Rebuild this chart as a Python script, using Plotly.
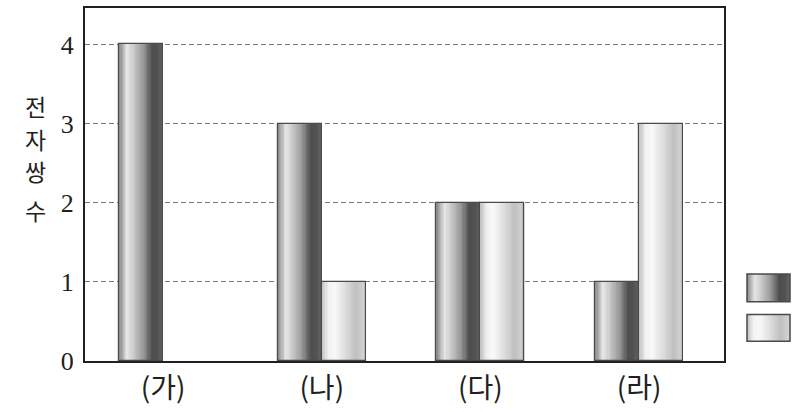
import plotly.graph_objects as go

# ---------------- data ----------------
categories = ["(가)", "(나)", "(다)", "(라)"]
series_dark = [4, 3, 2, 1]
series_light = [0, 1, 2, 3]
y_ticks = [0, 1, 2, 3, 4]
y_title_chars = ["전", "자", "쌍", "수"]

# ---------------- styling ----------------
DARK_STOPS = [(0.0, (0x86, 0x86, 0x86)), (0.18, (0xe6, 0xe6, 0xe6)), (0.30, (0xd0, 0xd0, 0xd0)),
              (0.55, (0x98, 0x98, 0x98)), (0.75, (0x4e, 0x4e, 0x4e)), (0.88, (0x52, 0x52, 0x52)),
              (1.0, (0x66, 0x66, 0x66))]
LIGHT_STOPS = [(0.0, (0xc0, 0xc0, 0xc0)), (0.15, (0xf2, 0xf2, 0xf2)), (0.30, (0xf8, 0xf8, 0xf8)),
               (0.55, (0xdc, 0xdc, 0xdc)), (0.78, (0xc0, 0xc0, 0xc0)), (1.0, (0xd6, 0xd6, 0xd6))]
N_STRIPS = 36
BAR_W = 0.277
OUTLINE = "#4a4a4a"
FRAME = "#231f20"


def grad(stops, t):
    for (t0, c0), (t1, c1) in zip(stops[:-1], stops[1:]):
        if t0 <= t <= t1:
            f = (t - t0) / (t1 - t0) if t1 > t0 else 0
            c = [round(a + (b - a) * f) for a, b in zip(c0, c1)]
            return "rgb(%d,%d,%d)" % tuple(c)
    return "rgb(%d,%d,%d)" % stops[-1][1]


fig = go.Figure()


def add_gradient_bars(values, offset, stops, name):
    vals = [v if v > 0 else None for v in values]
    step = BAR_W / N_STRIPS
    for i in range(N_STRIPS):
        t = (i + 0.5) / N_STRIPS
        fig.add_trace(go.Bar(
            x=categories, y=vals, width=BAR_W - i * step, offset=offset + i * step,
            marker=dict(color=grad(stops, t), line=dict(width=0)),
            showlegend=False, hoverinfo="skip", name=name))
    fig.add_trace(go.Bar(
        x=categories, y=vals, width=BAR_W, offset=offset,
        marker=dict(color="rgba(0,0,0,0)", line=dict(color=OUTLINE, width=1.2)),
        showlegend=False, name=name))


add_gradient_bars(series_dark, -BAR_W, DARK_STOPS, "dark")
add_gradient_bars(series_light, 0.0, LIGHT_STOPS, "light")

# ---------------- layout ----------------
L, R, T, B = 85, 73, 6, 49
W, H = 797, 412
PW, PH = W - L - R, H - T - B

fig.update_layout(
    width=W, height=H,
    margin=dict(l=L, r=R, t=T, b=B),
    paper_bgcolor="white", plot_bgcolor="white",
    barmode="overlay", bargap=0,
    showlegend=False,
)
fig.update_xaxes(
    type="category", range=[-0.492, 3.535],
    showline=True, mirror=True, linecolor=FRAME, linewidth=2,
    showgrid=False, ticks="", zeroline=False, ticklabelstandoff=1,
    tickfont=dict(family="Noto Sans CJK KR", size=28, color=FRAME),
)
fig.update_yaxes(
    range=[0, 4.46], tickvals=y_ticks, ticktext=[str(v) for v in y_ticks],
    showline=True, mirror=True, linecolor=FRAME, linewidth=2,
    showgrid=True, gridcolor="#7a7a7a", gridwidth=1.4, griddash="5px,3px",
    zeroline=False, ticks="", ticklabelstandoff=4,
    tickfont=dict(family="'Liberation Serif', 'DejaVu Serif', serif", size=26, color=FRAME),
)

# y-axis title, stacked characters
title_px_y = [105, 138, 171, 210]
for ch, py in zip(y_title_chars, title_px_y):
    fig.add_annotation(text=ch, xref="paper", yref="paper",
                       x=(35 - L) / PW, y=(H - B - py) / PH, showarrow=False,
                       xanchor="center", yanchor="middle", borderpad=0,
                       font=dict(family="Noto Sans CJK KR", size=23, color=FRAME))


# legend keys (no text), drawn as gradient boxes to the right of the frame
def legend_box(x0p, y0p, x1p, y1p, stops):
    n = 30
    for i in range(n):
        t = (i + 0.5) / n
        xa = x0p + (x1p - x0p) * i / n
        fig.add_shape(type="rect", xref="paper", yref="paper",
                      x0=(xa - L) / PW, x1=(x1p - L) / PW,
                      y0=(H - B - y1p) / PH, y1=(H - B - y0p) / PH,
                      fillcolor=grad(stops, t), line=dict(width=0), layer="above")
    fig.add_shape(type="rect", xref="paper", yref="paper",
                  x0=(x0p - L) / PW, x1=(x1p - L) / PW,
                  y0=(H - B - y1p) / PH, y1=(H - B - y0p) / PH,
                  fillcolor="rgba(0,0,0,0)", line=dict(color=OUTLINE, width=1.5), layer="above")


legend_box(747, 275, 790, 303, DARK_STOPS)
legend_box(747, 316, 790, 343, LIGHT_STOPS)

fig.write_html("out.html", config={"displayModeBar": False},
               post_script="document.body.style.margin='0px';document.body.style.overflow='hidden';")
